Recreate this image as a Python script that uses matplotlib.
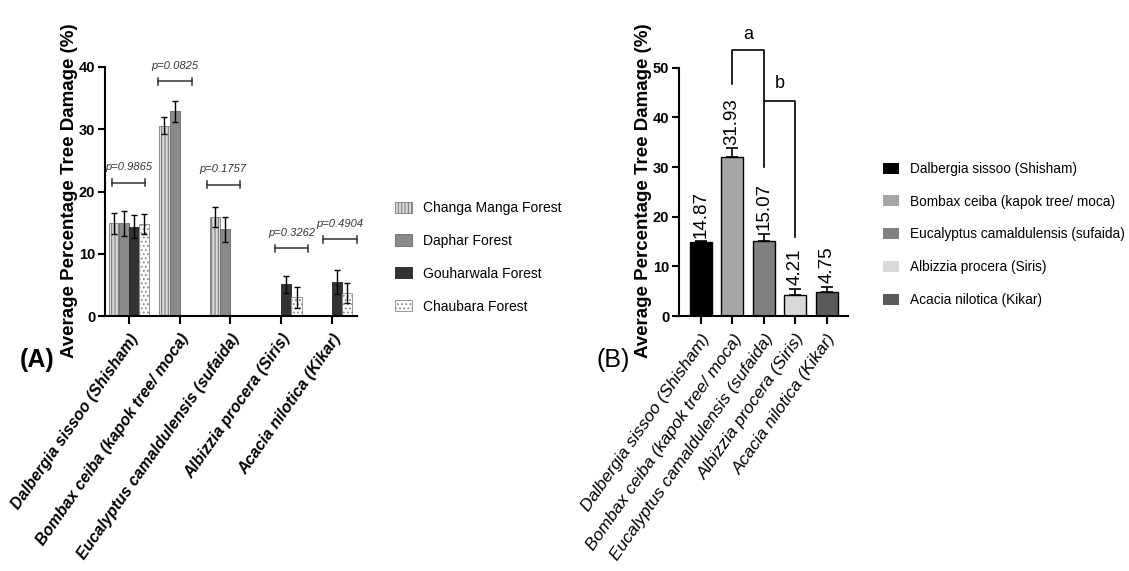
import numpy as np
import matplotlib
matplotlib.use("Agg")
from matplotlib import pyplot as plt
from matplotlib.patches import Patch

plt.rcParams['font.family'] = ['Liberation Sans', 'DejaVu Sans']
plt.rcParams['hatch.linewidth'] = 0.8

nan = np.nan

# ---- data, panel A (per forest) ----
species = ['Dalbergia sissoo (Shisham)', 'Bombax ceiba (kapok tree/ moca)',
           'Eucalyptus camaldulensis (sufaida)', 'Albizzia procera (Siris)',
           'Acacia nilotica (Kikar)']
forests = ['Changa Manga Forest', 'Daphar Forest', 'Gouharwala Forest', 'Chaubara Forest']

changa = [14.9, 30.6, 15.9, nan, nan]
changa_err = [1.65, 1.4, 1.6, nan, nan]
daphar = [14.9, 32.9, 13.9, nan, nan]
daphar_err = [2.0, 1.7, 2.0, nan, nan]
gouharwala = [14.3, nan, nan, 5.1, 5.5]
gouharwala_err = [1.85, nan, nan, 1.4, 1.9]
chaubara = [14.8, nan, nan, 3.0, 3.7]
chaubara_err = [1.55, nan, nan, 1.7, 1.6]

p_labels = ['p=0.9865', 'p=0.0825', 'p=0.1757', 'p=0.3262', 'p=0.4904']
p_heights = [21.4, 37.7, 21.1, 10.9, 12.3]
p_left = [-0.34, -0.43, -0.47, -0.12, -0.18]
p_right = [0.32, 0.24, 0.18, 0.53, 0.49]

# ---- data, panel B (average) ----
damage = [14.87, 31.93, 15.07, 4.21, 4.75]
damage_err = [0.2, 1.8, 1.45, 1.3, 1.15]

fig = plt.figure(figsize=(11.29, 5.71), dpi=100)

# ================= panel A =================
axA = fig.add_axes([105/1129, 1-316/571, 252/1129, 249/571])
x = np.arange(len(species))
w = 0.2
series = [changa, daphar, gouharwala, chaubara]
errs = [changa_err, daphar_err, gouharwala_err, chaubara_err]
fills = ['#dcdcdc', '#8a8a8a', '#333333', 'white']
edges = ['#7a7a7a', '#6a6a6a', '#222222', '#888888']
hatches = ['|||||', None, None, '....']

for i in range(4):
    xi = x + (i - 1.5) * w
    axA.bar(xi, series[i], w, color=fills[i], edgecolor=edges[i],
            hatch=hatches[i], linewidth=0.6)
    axA.errorbar(xi, series[i], yerr=errs[i], fmt='none', ecolor='black',
                 elinewidth=1, capsize=2.5, capthick=1)

for i in range(len(species)):
    x0 = x[i] + p_left[i]
    x1 = x[i] + p_right[i]
    y = p_heights[i]
    axA.plot([x0, x1], [y, y], color='#333333', lw=1.1, clip_on=False)
    axA.plot([x0, x0], [y-0.55, y+0.55], color='#333333', lw=1.1, clip_on=False)
    axA.plot([x1, x1], [y-0.55, y+0.55], color='#333333', lw=1.1, clip_on=False)
    axA.text((x0+x1)/2, y+1.7, p_labels[i], fontsize=8, style='italic',
             color='#333333', ha='center', va='bottom')

axA.set_xlim(-0.47, 4.49)
axA.set_ylim(0, 40)
axA.set_yticks([0, 10, 20, 30, 40])
axA.set_xticks(x)
axA.set_xticklabels(species, rotation=55, ha='right', rotation_mode='anchor',
                    fontsize=11.5, fontweight='bold', style='italic')

# ================= panel B =================
axB = fig.add_axes([679/1129, 1-316/571, 169/1129, 248.3/571])
colorsB = ['#000000', '#a6a6a6', '#808080', '#d9d9d9', '#5a5a5a']
axB.bar(x, damage, 0.69, color=colorsB, edgecolor='black', linewidth=1)
axB.errorbar(x, damage, yerr=[np.zeros(len(damage)), damage_err], fmt='none',
             ecolor='black', elinewidth=1.2, capsize=4, capthick=1.2)
for i in range(len(damage)):
    axB.text(x[i], damage[i] + damage_err[i] + 0.7, '%.2f' % damage[i],
             rotation=90, ha='center', va='bottom', fontsize=13.5)

# significance brackets
axB.plot([1, 1, 2, 2], [46.8, 53.6, 53.6, 30.0], color='black', lw=1.2, clip_on=False)
axB.plot([2, 3, 3], [43.2, 43.2, 16.0], color='black', lw=1.2, clip_on=False)
axB.text(1.5, 55.0, 'a', ha='center', va='bottom', fontsize=13)
axB.text(2.5, 46.8, 'b', ha='center', va='center', fontsize=13)

axB.set_xlim(-0.69, 4.67)
axB.set_ylim(0, 50)
axB.set_yticks([0, 10, 20, 30, 40, 50])
axB.set_xticks(x)
axB.set_xticklabels(species, rotation=55, ha='right', rotation_mode='anchor',
                    fontsize=12.5, style='italic')

for ax in (axA, axB):
    ax.spines['top'].set_visible(False)
    ax.spines['right'].set_visible(False)
    ax.spines['left'].set_linewidth(1.5)
    ax.spines['bottom'].set_linewidth(1.5)
    ax.tick_params(axis='y', direction='out', length=5, width=1.5, labelsize=10.5, pad=2)
    ax.tick_params(axis='x', direction='out', length=6, width=1.5, pad=5)
    for t in ax.get_yticklabels():
        t.set_fontweight('bold')

# axis titles and panel letters
fig.text(70/1129, 1-191/571, 'Average Percentage Tree Damage (%)', rotation=90,
         ha='center', va='center', fontsize=13.5, fontweight='bold')
fig.text(643/1129, 1-191/571, 'Average Percentage Tree Damage (%)', rotation=90,
         ha='center', va='center', fontsize=13.5, fontweight='bold')
fig.text(37/1129, 1-360/571, '(A)', ha='center', va='center', fontsize=18, fontweight='bold')
fig.text(613/1129, 1-360/571, '(B)', ha='center', va='center', fontsize=18)

# legends
handlesA = [Patch(facecolor=fills[i], edgecolor=edges[i], hatch=hatches[i], linewidth=0.6)
            for i in range(4)]
fig.legend(handlesA, forests, loc='upper left', bbox_to_anchor=(388/1129, 1-194/571),
           frameon=False, fontsize=10, labelspacing=1.36, handlelength=1.2,
           handleheight=0.85, handletextpad=0.8, borderpad=0)

handlesB = [Patch(facecolor=colorsB[i], edgecolor='none') for i in range(5)]
fig.legend(handlesB, species, loc='upper left', bbox_to_anchor=(876/1129, 1-155/571),
           frameon=False, fontsize=9.8, labelspacing=1.38, handlelength=1.2,
           handleheight=0.85, handletextpad=0.8, borderpad=0)

fig.savefig('out.png', dpi=100)
